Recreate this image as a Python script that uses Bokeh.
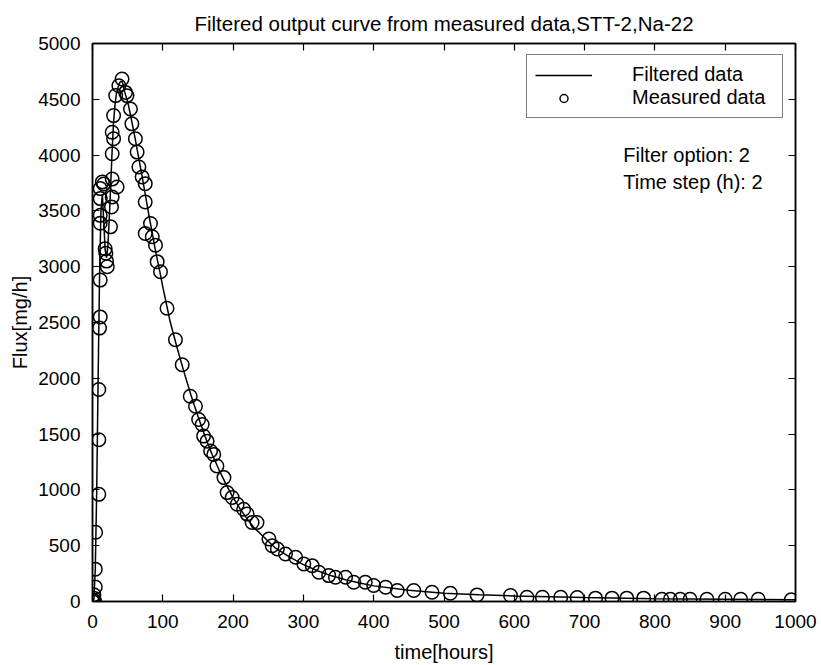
from bokeh.plotting import figure
from bokeh.models import LinearAxis, Label, Legend, LegendItem, FixedTicker
from bokeh.embed import file_html
from bokeh.resources import INLINE

# Measured data (time in hours, flux in mg/h)
t_meas = [0, 1, 2, 2, 3, 4, 4, 4.5, 9, 9, 9, 10, 11, 11, 11, 11, 11, 11, 14, 16,
          18, 19, 20, 21, 25.6, 27, 28, 28, 28, 28, 30, 30, 33, 35, 37.5, 42, 47, 49,
          54, 56, 61, 63.5, 66, 70.6, 75, 75, 75, 82.5, 85, 89.6, 92, 96.7, 106, 118,
          127.6, 139, 146.5, 151, 156, 158, 163, 168, 172.5, 177, 187, 191.5, 198.7,
          205.8, 215, 220, 227, 234, 251, 255.6, 263, 274.5, 289, 300.6, 312.5, 322,
          336, 345.6, 360, 371.7, 388, 400, 417, 433.5, 457, 483, 509, 547, 594.6,
          618, 640, 666, 689.5, 715.5, 739, 760, 784, 810, 822, 836, 850, 874, 900,
          922, 947, 994]
flux_meas = [0, 10, 30, 60, 0, 130, 290, 620, 960, 1450, 1900, 2450, 2550, 2880, 3390,
             3460, 3610, 3700, 3760, 3740, 3160, 3120, 3050, 3000, 3357, 3536, 3625,
             3785, 4012, 4205, 4146, 4354, 4533, 3714, 4622, 4682, 4562, 4533, 4413,
             4280, 4146, 4027, 3893, 3804, 3744, 3580, 3297, 3387, 3268, 3193, 3045,
             2955, 2628, 2345, 2122, 1839, 1750, 1631, 1586, 1482, 1437, 1348, 1318,
             1214, 1110, 976, 932, 872, 827, 783, 708, 708, 560, 500, 470, 426, 396,
             336, 321, 262, 232, 217, 217, 173, 173, 143, 128, 98, 98, 83, 74, 59, 54,
             38, 38, 38, 35, 30, 30, 30, 30, 20, 20, 20, 20, 20, 20, 20, 20, 15]

# Filtered curve
t_filt = [0, 2, 4, 6, 8, 10, 12, 14, 16, 18, 20, 22, 24, 26, 28, 30, 32, 34, 36, 38,
          40, 42, 44, 46, 50, 55, 60, 65, 70, 75, 80, 85, 90, 95, 100, 110, 120, 130,
          140, 150, 160, 170, 180, 190, 200, 210, 220, 230, 240, 250, 260, 270, 280,
          300, 320, 340, 360, 380, 400, 450, 500, 550, 600, 700, 800, 900, 1000]
flux_filt = [0, 20, 300, 1000, 2000, 2900, 3500, 3650, 3400, 3150, 3080, 3200, 3450,
             3750, 4050, 4300, 4450, 4550, 4600, 4640, 4660, 4660, 4620, 4560, 4480,
             4330, 4170, 4000, 3830, 3650, 3470, 3300, 3130, 2980, 2820, 2520, 2280,
             2060, 1850, 1660, 1480, 1320, 1180, 1050, 930, 830, 740, 660, 600, 540,
             480, 440, 400, 330, 275, 230, 195, 165, 140, 100, 75, 60, 50, 35, 25, 20, 15]

x_ticks = [0, 100, 200, 300, 400, 500, 600, 700, 800, 900, 1000]
y_ticks = [0, 500, 1000, 1500, 2000, 2500, 3000, 3500, 4000, 4500, 5000]
title_text = "Filtered output curve from measured data,STT-2,Na-22"

FONT = "Liberation Sans"

p = figure(width=821, height=665, x_range=(0, 1000), y_range=(0, 5000),
           output_backend="svg", toolbar_location=None,
           min_border_left=92, min_border_right=26, min_border_top=42,
           min_border_bottom=64, title=title_text)
p.background_fill_color = "white"
p.border_fill_color = "white"
p.xgrid.visible = False
p.ygrid.visible = False
p.outline_line_color = "black"
p.outline_line_width = 1.5
p.outline_line_alpha = 1

p.title.align = "center"
p.title.text_font = FONT
p.title.text_font_size = "20.5px"
p.title.text_font_style = "normal"
p.title.text_color = "black"
p.title.standoff = 18

for ax, lab in ((p.xaxis[0], "time[hours]"), (p.yaxis[0], "Flux[mg/h]")):
    ax.axis_label = lab
    ax.axis_label_text_font = FONT
    ax.axis_label_text_font_size = "20px"
    ax.axis_label_text_font_style = "normal"
    ax.axis_label_text_color = "black"
    ax.major_label_text_font = FONT
    ax.major_label_text_font_size = "19px"
    ax.major_label_text_color = "black"
    ax.major_tick_in = 7
    ax.major_tick_out = 0
    ax.minor_tick_line_color = None
    ax.axis_line_width = 1.5
    ax.major_tick_line_width = 1.2
p.xaxis[0].ticker = FixedTicker(ticks=x_ticks)
p.yaxis[0].ticker = FixedTicker(ticks=y_ticks)
p.xaxis[0].major_label_standoff = 13
p.xaxis[0].axis_label_standoff = 10
p.yaxis[0].major_label_standoff = 12
p.yaxis[0].axis_label_standoff = 4

for side, ticks in (("above", x_ticks), ("right", y_ticks)):
    ax = LinearAxis(ticker=FixedTicker(ticks=ticks))
    ax.major_label_overrides = {t: "" for t in ticks}
    ax.major_label_text_font_size = "10px"
    ax.major_label_standoff = 0
    ax.major_tick_in = 7
    ax.major_tick_out = 0
    ax.minor_tick_line_color = None
    ax.axis_line_width = 1.5
    ax.major_tick_line_width = 1.2
    p.add_layout(ax, side)

r_line = p.line(t_filt, flux_filt, line_color="black", line_width=1.5)
r_pts = p.scatter(t_meas, flux_meas, marker="circle", size=13.5, fill_alpha=0,
                  line_color="black", line_width=1.5)

legend = Legend(items=[LegendItem(label="Filtered data", renderers=[r_line]),
                       LegendItem(label="Measured data", renderers=[r_pts])],
                location=(434, 483))
legend.label_text_font = FONT
legend.label_text_font_size = "20px"
legend.label_text_color = "black"
legend.glyph_width = 57
legend.glyph_height = 20
legend.label_standoff = 40
legend.label_height = 20
legend.label_width = 142
legend.padding = 8
legend.spacing = 0
legend.margin = 0
legend.border_line_color = "black"
legend.border_line_width = 1.5
legend.background_fill_alpha = 1
p.add_layout(legend)

for txt, yv in (("Filter option: 2", 4000), ("Time step (h): 2", 3759)):
    p.add_layout(Label(x=755, y=yv, text=txt, text_font=FONT, text_font_size="20px",
                       text_baseline="middle", text_color="black"))

open("out.html", "w").write(file_html(p, INLINE))
